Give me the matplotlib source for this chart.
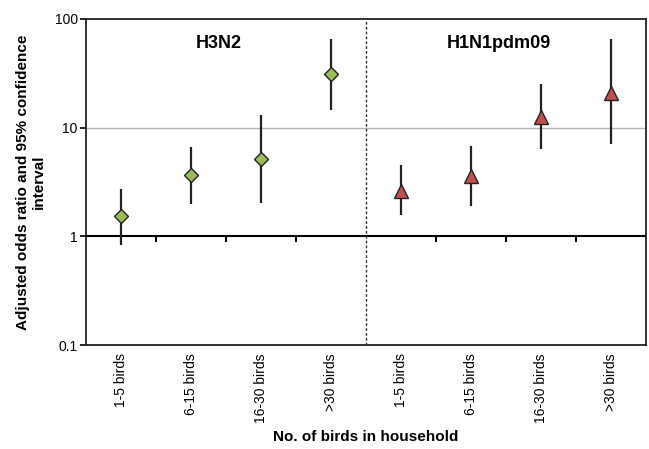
import matplotlib
matplotlib.use("Agg")
import matplotlib.pyplot as plt
import numpy as np

plt.rcParams['font.family'] = ['Liberation Sans', 'DejaVu Sans']

categories = ["1-5 birds", "6-15 birds", "16-30 birds", ">30 birds"]

# H3N2 adjusted odds ratios and 95% CI
h3n2_or = [1.54, 3.66, 5.1, 31.0]
h3n2_lo = [0.84, 2.0, 2.04, 14.5]
h3n2_hi = [2.75, 6.63, 13.0, 66.0]

# H1N1pdm09 adjusted odds ratios and 95% CI
h1n1_or = [2.63, 3.56, 12.5, 21.0]
h1n1_lo = [1.57, 1.9, 6.3, 7.0]
h1n1_hi = [4.53, 6.77, 25.0, 66.0]

GREEN = "#9bbb59"
RED = "#c0504d"

fig = plt.figure(figsize=(6.49, 4.49), dpi=100)
ax = fig.add_axes([0.1325, 0.2316, 0.8629, 0.7261])

n = len(categories)
x_left = np.arange(n) + 0.5
x_right = np.arange(n) + n + 0.5


def draw_group(x, vals, lo, hi, marker, color, ms):
    vals = np.array(vals)
    yerr = [vals - np.array(lo), np.array(hi) - vals]
    ax.errorbar(x, vals, yerr=yerr, fmt=marker, color="#222222", ecolor="#222222",
                elinewidth=1.6, capsize=0, mfc=color, mec="#222222", mew=1.0,
                ms=ms, zorder=5)


ax.set_yscale("log")
ax.set_ylim(0.1, 100)
ax.set_xlim(0, 2 * n)

# grid line at 10 and reference line at 1
ax.axhline(10, color="#b5b5b5", lw=1.0, zorder=1)
ax.axhline(1, color="black", lw=1.5, zorder=2)
# category boundary ticks on the OR=1 line
bounds = [b for b in range(1, 2 * n) if b != n]
ax.plot(bounds, [1] * len(bounds), ls="none", marker=3, ms=4, mew=1.5,
        color="black", zorder=2)
# separator between virus groups
ax.axvline(n, color="#333333", lw=1.0, ls=(0, (2, 1.5)), zorder=2)

draw_group(x_left, h3n2_or, h3n2_lo, h3n2_hi, "D", GREEN, 7.3)
draw_group(x_right, h1n1_or, h1n1_lo, h1n1_hi, "^", RED, 9.5)

ax.text(n / 2 - 0.1, 60, "H3N2", ha="center", va="center", fontsize=13,
        fontweight="bold")
ax.text(n + n / 2 - 0.1, 60, "H1N1pdm09", ha="center", va="center",
        fontsize=13, fontweight="bold")

ax.set_yticks([0.1, 1, 10, 100])
ax.set_yticklabels(["0.1", "1", "10", "100"])
ax.yaxis.set_minor_locator(matplotlib.ticker.NullLocator())
ax.tick_params(axis="y", labelsize=10, length=4, width=1.2, direction="out", pad=2)

ax.set_xticks(np.concatenate([x_left, x_right]))
ax.set_xticklabels(categories * 2, rotation=90)
ax.tick_params(axis="x", labelsize=10, length=0, pad=6)

for s in ax.spines.values():
    s.set_linewidth(1.3)
    s.set_color("#222222")

ax.set_ylabel("Adjusted odds ratio and 95% confidence\ninterval", fontsize=11,
              fontweight="bold", labelpad=6)
ax.set_xlabel("No. of birds in household", fontsize=11, fontweight="bold",
              labelpad=5)

fig.savefig("out.png", dpi=100)
